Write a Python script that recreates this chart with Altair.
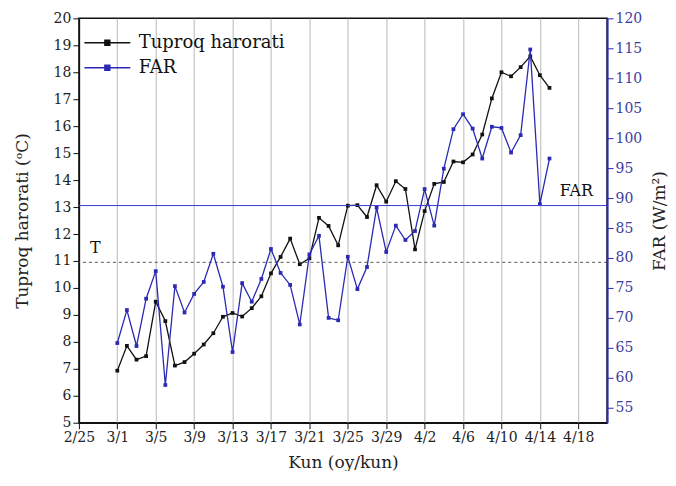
import altair as alt
import pandas as pd

# ---- data ----
dates = ["3/1", "3/2", "3/3", "3/4", "3/5", "3/6", "3/7", "3/8", "3/9", "3/10",
         "3/11", "3/12", "3/13", "3/14", "3/15", "3/16", "3/17", "3/18", "3/19", "3/20",
         "3/21", "3/22", "3/23", "3/24", "3/25", "3/26", "3/27", "3/28", "3/29", "3/30",
         "3/31", "4/1", "4/2", "4/3", "4/4", "4/5", "4/6", "4/7", "4/8", "4/9",
         "4/10", "4/11", "4/12", "4/13", "4/14", "4/15"]
soil_temp = [6.93, 7.85, 7.34, 7.47, 9.49, 8.77, 7.12, 7.25, 7.56, 7.90,
             8.32, 8.93, 9.07, 8.94, 9.25, 9.69, 10.54, 11.15, 11.83, 10.88,
             11.10, 12.60, 12.30, 11.58, 13.05, 13.07, 12.63, 13.81, 13.20, 13.96,
             13.67, 11.43, 12.85, 13.86, 13.93, 14.69, 14.66, 14.95, 15.69, 17.03,
             18.00, 17.85, 18.19, 18.59, 17.89, 17.42]
far = [65.8, 71.3, 65.3, 73.2, 77.8, 58.8, 75.3, 70.9, 74.0, 76.0,
       80.7, 75.2, 64.3, 75.8, 72.7, 76.5, 81.5, 77.5, 75.5, 68.9,
       80.6, 83.7, 70.0, 69.6, 80.2, 74.8, 78.5, 88.4, 81.0, 85.4,
       83.0, 84.5, 91.5, 85.4, 94.9, 101.5, 104.0, 101.6, 96.6, 101.9,
       101.7, 97.6, 100.5, 114.8, 89.0, 96.6]
tick_labels = ["2/25", "3/1", "3/5", "3/9", "3/13", "3/17", "3/21", "3/25",
               "3/29", "4/2", "4/6", "4/10", "4/14", "4/18"]
series_names = ["Tuproq harorati", "FAR"]
t_ref = 10.95      # dashed T reference level
far_ref = 88.75    # FAR reference level

# day offset from 2/25 (non-leap year)
def day_offset(s):
    m, d = map(int, s.split("/"))
    return (d - 25) if m == 2 else (3 + d if m == 3 else 3 + 31 + d)

xs = [day_offset(s) for s in dates]
df_t = pd.DataFrame({"day": xs, "date": dates, "val": soil_temp, "series": series_names[0]})
df_f = pd.DataFrame({"day": xs, "date": dates, "val": far, "series": series_names[1]})

FONT = "DejaVu Serif"
BLUE = "#2a2ab4"
RULE_BLUE = "#3b3bd6"
label_arr = "[" + ",".join("'%s'" % t for t in tick_labels) + "]"

x_enc = alt.X("day:Q", scale=alt.Scale(domain=[0, 55], nice=False, zero=False),
              axis=alt.Axis(values=[day_offset(t) for t in tick_labels],
                            labelExpr=label_arr + "[round(datum.value/4)]",
                            labelOverlap=False, labelFlush=False,
                            title="Kun (oy/kun)", grid=True, gridColor="#c4c4c4",
                            gridWidth=1.2, titlePadding=10))

color = alt.Color("series:N", scale=alt.Scale(domain=series_names, range=["#111111", BLUE]),
                  legend=alt.Legend(title=None, orient="none", legendX=13, legendY=9,
                                    padding=0,
                                    symbolType="M-1.6,0H1.6M-0.17,-0.17H0.17V0.17H-0.17Z",
                                    symbolSize=826, symbolStrokeWidth=1.5,
                                    labelOffset=16,
                                    labelFont=FONT, labelFontSize=18, rowPadding=-5,
                                    labelColor="#111"))

y_left_scale = alt.Scale(domain=[5, 20], nice=False, zero=False)
y_left_axis = alt.Axis(values=list(range(5, 21)), title="Tuproq harorati (\u1d52C)",
                       grid=False, titlePadding=22)

y_right_scale = alt.Scale(domain=[52.5, 120], nice=False, zero=False)
y_right_axis = alt.Axis(orient="right", values=list(range(55, 121, 5)), title="FAR (W/m\u00b2)",
                        grid=False, domainColor=BLUE, tickColor=BLUE, labelColor="#3c3ca0",
                        domainWidth=2, titlePadding=27, titleAngle=270)

pt = alt.OverlayMarkDef(shape="square", size=14, filled=True)

t_line = alt.Chart(df_t).mark_line(point=pt, strokeWidth=1.3).encode(
    x=x_enc, y=alt.Y("val:Q", scale=y_left_scale, axis=y_left_axis), color=color)
t_rule = alt.Chart(pd.DataFrame({"y": [t_ref]})).mark_rule(
    strokeDash=[3, 3], strokeWidth=1).encode(
    y=alt.Y("y:Q", scale=y_left_scale, axis=y_left_axis), color=alt.value("#555555"))
t_text = alt.Chart(pd.DataFrame({"day": [1.7], "y": [11.2], "txt": ["T"]})).mark_text(
    font=FONT, fontSize=16, baseline="bottom").encode(
    x=alt.X("day:Q"), y=alt.Y("y:Q", scale=y_left_scale, axis=y_left_axis), text="txt:N",
    color=alt.value("#111111"))
left = alt.layer(t_line, t_rule, t_text)

f_line = alt.Chart(df_f).mark_line(point=pt, strokeWidth=1.3).encode(
    x=x_enc, y=alt.Y("val:Q", scale=y_right_scale, axis=y_right_axis), color=color)
f_rule = alt.Chart(pd.DataFrame({"y": [far_ref]})).mark_rule(strokeWidth=1).encode(
    y=alt.Y("y:Q", scale=y_right_scale, axis=y_right_axis), color=alt.value(RULE_BLUE))
f_text = alt.Chart(pd.DataFrame({"day": [51.8], "y": [89.8], "txt": ["FAR"]})).mark_text(
    font=FONT, fontSize=16, baseline="bottom").encode(
    x=alt.X("day:Q"), y=alt.Y("y:Q", scale=y_right_scale, axis=y_right_axis), text="txt:N",
    color=alt.value("#111111"))
right = alt.layer(f_line, f_rule, f_text)

chart = alt.layer(left, right).resolve_scale(y="independent").properties(
    width=529, height=405,
    padding={"left": 5, "top": 3, "right": 0, "bottom": 0}
).configure_view(stroke="#111", strokeWidth=1.5).configure_axis(
    labelFont=FONT, titleFont=FONT, labelFontSize=14, titleFontSize=17,
    titleFontWeight="normal", labelColor="#222", titleColor="#222",
    domainColor="#111", tickColor="#111", domainWidth=1.5, tickSize=6
)

chart.save("out.html", embed_options={"renderer": "svg", "actions": False})
